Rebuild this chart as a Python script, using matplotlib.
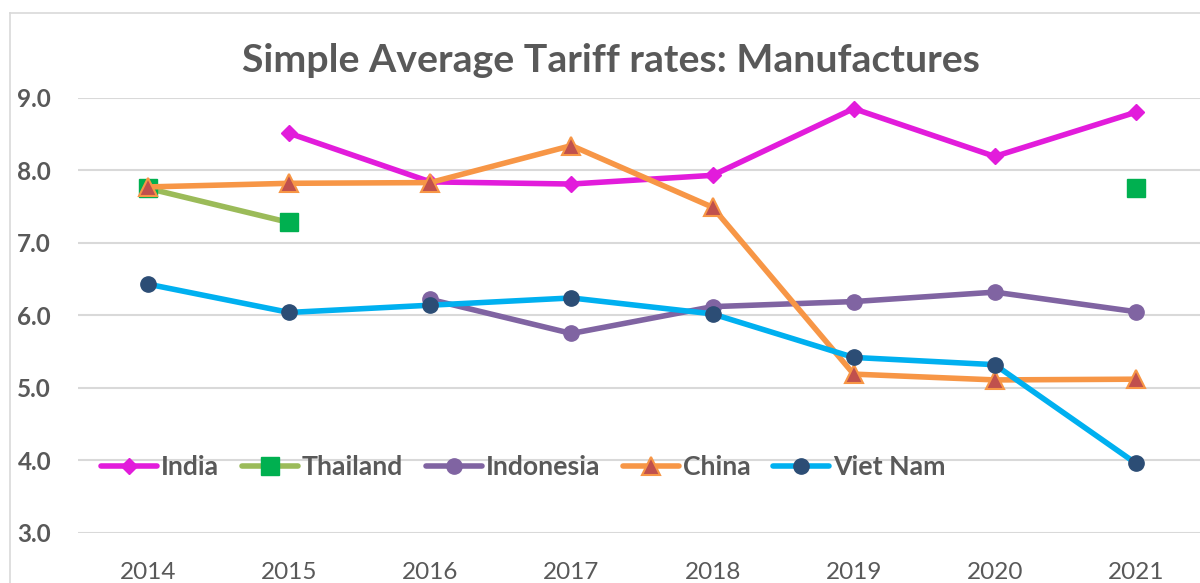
import numpy as np
import matplotlib
matplotlib.use("Agg")
import matplotlib.pyplot as plt
from matplotlib.lines import Line2D

years = ["2014", "2015", "2016", "2017", "2018", "2019", "2020", "2021"]
nan = np.nan
india = [nan, 8.51, 7.84, 7.81, 7.93, 8.85, 8.19, 8.80]
thailand = [7.75, 7.28, nan, nan, nan, nan, nan, 7.75]
indonesia = [nan, nan, 6.22, 5.75, 6.12, 6.19, 6.32, 6.05]
china = [7.77, 7.82, 7.83, 8.34, 7.49, 5.19, 5.11, 5.12]
vietnam = [6.43, 6.04, 6.14, 6.24, 6.02, 5.42, 5.32, 3.96]
title = "Simple Average Tariff rates: Manufactures"

TXT = "#595959"
GRID = "#D9D9D9"
FONT = "Lato"

W, H = 1200, 583
fig = plt.figure(figsize=(W / 100, H / 100), dpi=100)
fig.patch.set_facecolor("white")

# outer chart border (left & top visible)
fig.add_artist(Line2D([10 / W, 10 / W], [0, 1 - 13 / H], color=GRID, lw=1.2, transform=fig.transFigure))
fig.add_artist(Line2D([10 / W, 1.0], [1 - 13 / H, 1 - 13 / H], color=GRID, lw=1.2, transform=fig.transFigure))

left, right = 77.5 / W, 1206.5 / W
bottom, top = (H - 533) / H, (H - 97.7) / H
ax = fig.add_axes([left, bottom, right - left, top - bottom])
ax.set_facecolor("none")

x = np.arange(len(years))
lw = 4.0
series = [
    ("India", india, dict(color="#E21CDB", marker="D", ms=8.2, mfc="#E21CDB", mec="#E21CDB")),
    ("Thailand", thailand, dict(color="#9BBB59", marker="s", ms=13.5, mfc="#00B050", mec="#00B050")),
    ("Indonesia", indonesia, dict(color="#8064A2", marker="o", ms=11, mfc="#8064A2", mec="#8064A2")),
    ("China", china, dict(color="#F79646", marker="^", ms=13.5, mfc="#C0504D", mec="#F79646", mew=1.5)),
    ("Viet Nam", vietnam, dict(color="#00B0F0", marker="o", ms=11, mfc="#2C4D75", mec="#2C4D75")),
]
for i, (name, vals, st) in enumerate(series):
    ax.plot(x, vals, lw=lw, label=name, solid_capstyle="round", zorder=3 + i, **st)

ax.set_xlim(-0.5, len(years) - 0.5)
ax.set_ylim(3, 9)
ax.set_yticks(np.arange(3, 9.01, 1.0))
ax.set_yticklabels([f"{v:.1f}" for v in np.arange(3, 9.01, 1.0)],
                   fontfamily=FONT, fontweight="bold", fontsize=17.5, color=TXT)
ax.set_xticks(x)
ax.set_xticklabels(years, fontfamily=FONT, fontsize=17.5, color=TXT)
ax.tick_params(axis="both", length=0)
ax.tick_params(axis="y", pad=19)
ax.tick_params(axis="x", pad=21)
for s in ax.spines.values():
    s.set_visible(False)
ax.grid(axis="y", color=GRID, lw=1.5, zorder=0)
ax.set_axisbelow(True)

fig.text(611 / W, 1 - 60 / H, title, ha="center", va="center",
         fontfamily=FONT, fontweight="bold", fontsize=28.3, color=TXT)

leg = ax.legend(loc="center", bbox_to_anchor=(0.436, 1 - 467 / H), bbox_transform=fig.transFigure,
                ncol=5, frameon=False, handlelength=2.1, handletextpad=0.15, columnspacing=0.85,
                prop=dict(family=FONT, weight="bold", size=19.2), borderpad=0, borderaxespad=0)
for t in leg.get_texts():
    t.set_color(TXT)

fig.savefig("out.png", dpi=100)
